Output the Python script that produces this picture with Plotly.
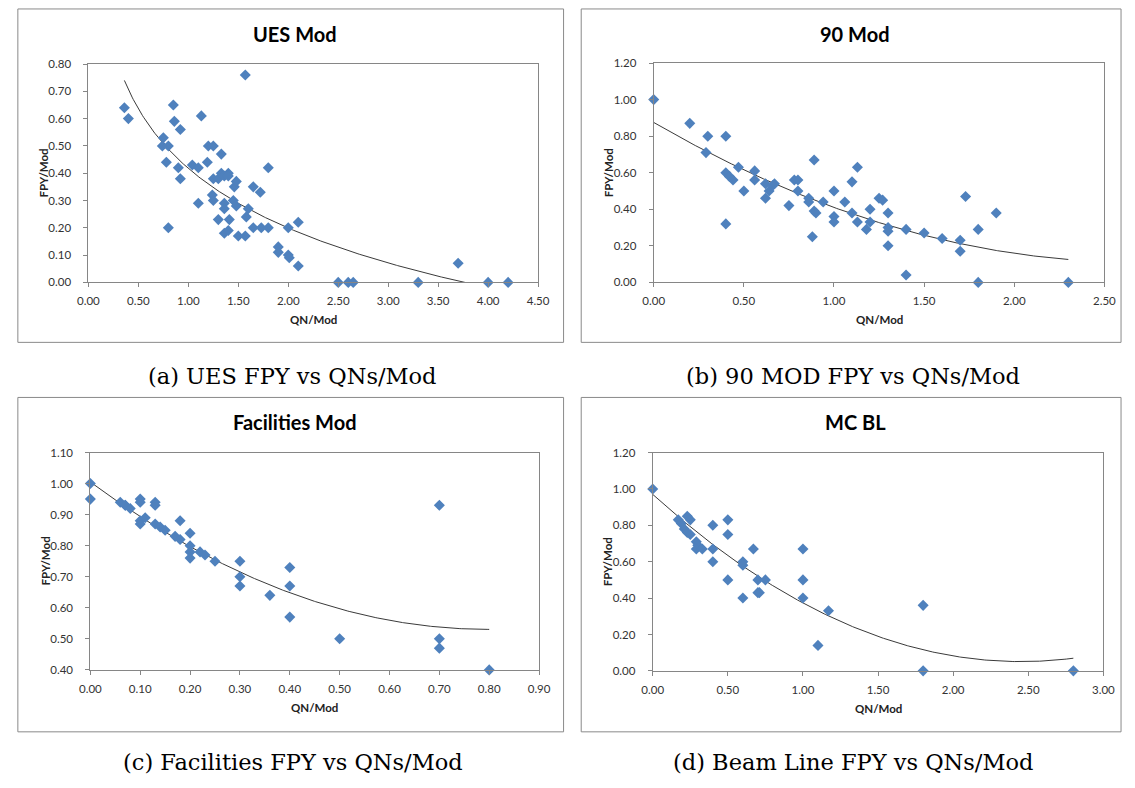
import numpy as np
import plotly.graph_objects as go

W, H = 1135, 788

# ---------------- data ----------------
ues_x = [0.36, 0.40, 0.75, 0.74, 0.80, 0.78, 0.80, 0.85, 0.86, 0.92,
         0.90, 0.92, 1.04, 1.10, 1.10, 1.13, 1.20, 1.25, 1.19, 1.25,
         1.24, 1.25, 1.30, 1.33, 1.33, 1.30, 1.36, 1.40, 1.40, 1.36,
         1.36, 1.36, 1.40, 1.41, 1.46, 1.48, 1.45, 1.48, 1.50, 1.57,
         1.57, 1.58, 1.60, 1.65, 1.72, 1.65, 1.73, 1.80, 1.80, 1.90,
         1.90, 2.00, 2.00, 2.01, 2.10, 2.10, 2.50, 2.60, 2.65, 3.30,
         3.70, 4.00, 4.20]
ues_y = [0.64, 0.60, 0.53, 0.50, 0.50, 0.44, 0.20, 0.65, 0.59, 0.56,
         0.42, 0.38, 0.43, 0.42, 0.29, 0.61, 0.50, 0.50, 0.44, 0.38,
         0.32, 0.30, 0.23, 0.47, 0.40, 0.38, 0.39, 0.40, 0.39, 0.29,
         0.27, 0.18, 0.19, 0.23, 0.35, 0.37, 0.30, 0.28, 0.17, 0.76,
         0.17, 0.24, 0.27, 0.35, 0.33, 0.20, 0.20, 0.42, 0.20, 0.13,
         0.11, 0.20, 0.10, 0.09, 0.22, 0.06, 0.00, 0.00, 0.00, 0.00,
         0.07, 0.00, 0.00]

mod90_x = [0.00, 0.20, 0.30, 0.40, 0.29, 0.40, 0.42, 0.44, 0.40, 0.47,
           0.50, 0.56, 0.56, 0.62, 0.62, 0.64, 0.66, 0.67, 0.75, 0.78,
           0.80, 0.80, 0.89, 0.86, 0.86, 0.88, 0.89, 0.90, 0.94, 1.00,
           1.00, 1.00, 1.06, 1.10, 1.13, 1.10, 1.13, 1.18, 1.20, 1.20,
           1.25, 1.27, 1.30, 1.30, 1.30, 1.30, 1.40, 1.40, 1.50, 1.60,
           1.70, 1.70, 1.73, 1.80, 1.80, 1.90, 2.30]
mod90_y = [1.00, 0.87, 0.80, 0.80, 0.71, 0.60, 0.58, 0.56, 0.32, 0.63,
           0.50, 0.61, 0.56, 0.54, 0.46, 0.50, 0.53, 0.54, 0.42, 0.56,
           0.56, 0.50, 0.67, 0.46, 0.44, 0.25, 0.39, 0.38, 0.44, 0.50,
           0.36, 0.33, 0.44, 0.55, 0.63, 0.38, 0.33, 0.29, 0.40, 0.33,
           0.46, 0.45, 0.38, 0.30, 0.28, 0.20, 0.29, 0.04, 0.27, 0.24,
           0.23, 0.17, 0.47, 0.29, 0.00, 0.38, 0.00]

fac_x = [0.00, 0.00, 0.06, 0.07, 0.07, 0.08, 0.10, 0.10, 0.10, 0.10,
         0.11, 0.13, 0.13, 0.13, 0.14, 0.15, 0.17, 0.18, 0.18, 0.20,
         0.20, 0.20, 0.20, 0.22, 0.23, 0.25, 0.30, 0.30, 0.30, 0.36,
         0.40, 0.40, 0.40, 0.50, 0.70, 0.70, 0.70, 0.80]
fac_y = [1.00, 0.95, 0.94, 0.93, 0.93, 0.92, 0.95, 0.94, 0.88, 0.87,
         0.89, 0.94, 0.93, 0.87, 0.86, 0.85, 0.83, 0.82, 0.88, 0.84,
         0.80, 0.78, 0.76, 0.78, 0.77, 0.75, 0.75, 0.70, 0.67, 0.64,
         0.73, 0.67, 0.57, 0.50, 0.93, 0.50, 0.47, 0.40]

mcbl_x = [0.00, 0.17, 0.23, 0.25, 0.19, 0.21, 0.23, 0.25, 0.29, 0.30,
          0.29, 0.33, 0.40, 0.40, 0.40, 0.50, 0.50, 0.50, 0.67, 0.60,
          0.60, 0.60, 0.70, 0.75, 0.70, 0.71, 1.00, 1.00, 1.00, 1.17,
          1.10, 1.80, 1.80, 2.80]
mcbl_y = [1.00, 0.83, 0.85, 0.83, 0.81, 0.78, 0.76, 0.75, 0.71, 0.69,
          0.67, 0.67, 0.80, 0.67, 0.60, 0.83, 0.75, 0.50, 0.67, 0.60,
          0.58, 0.40, 0.50, 0.50, 0.43, 0.43, 0.67, 0.50, 0.40, 0.33,
          0.14, 0.36, 0.00, 0.00]

# trendline coefficients as displayed in the reference charts
ues_trend_log = [0.4177, -0.3154]            # y = a + b*ln(x)
mod90_trend_poly = [0.875, -0.572, 0.107]    # y = a + b*x + c*x^2
fac_trend_poly = [1.005, -1.190, 0.746]
mcbl_trend_poly = [0.970, -0.750, 0.153]

chart_titles = ["UES Mod", "90 Mod", "Facilities Mod", "MC BL"]
captions = ["(a) UES FPY vs QNs/Mod", "(b) 90 MOD FPY vs QNs/Mod",
            "(c) Facilities FPY vs QNs/Mod", "(d) Beam Line FPY vs QNs/Mod"]
x_title = "QN/Mod"
y_title = "FPY/Mod"

# ---------------- layout (pixels) ----------------
panels = [
    dict(x=ues_x, y=ues_y, trend=("log", ues_trend_log),
         box=(7, 2, 564, 341), plot=(79, 58, 538, 280),
         xr=[0, 4.5], xd=0.5, yr=[0, 0.8], yd=0.1, cap_y=375),
    dict(x=mod90_x, y=mod90_y, trend=("poly", mod90_trend_poly),
         box=(582, 2, 1133, 341), plot=(656, 57, 1116, 280),
         xr=[0, 2.5], xd=0.5, yr=[0, 1.2], yd=0.2, cap_y=375),
    dict(x=fac_x, y=fac_y, trend=("poly", fac_trend_poly),
         box=(7, 397, 564, 737), plot=(81, 453, 539, 674),
         xr=[0, 0.9], xd=0.1, yr=[0.4, 1.1], yd=0.1, cap_y=768),
    dict(x=mcbl_x, y=mcbl_y, trend=("poly", mcbl_trend_poly),
         box=(582, 397, 1133, 737), plot=(655, 453, 1115, 675),
         xr=[0, 3.0], xd=0.5, yr=[0, 1.2], yd=0.2, cap_y=768),
]

MARKER = "#4F81BD"
AXIS = "#868686"
TICKFONT = dict(family="Lato, Open Sans, sans-serif", size=11.5, color="#333333")

fig = go.Figure()
shapes, annotations = [], []


def fx(px):
    return px / W


def fy(py):
    return 1 - py / H


for i, p in enumerate(panels):
    n = i + 1
    xa = "x" if n == 1 else f"x{n}"
    ya = "y" if n == 1 else f"y{n}"
    xs = np.array(p["x"], dtype=float)
    ys = np.array(p["y"], dtype=float)

    kind, coef = p["trend"]
    tx = np.linspace(xs.min(), xs.max(), 300)
    if kind == "log":
        ty = coef[0] + coef[1] * np.log(tx)
    else:
        ty = coef[0] + coef[1] * tx + coef[2] * tx ** 2
    fig.add_trace(go.Scatter(x=tx, y=ty, mode="lines", xaxis=xa, yaxis=ya,
                             line=dict(color="#3a3a3a", width=1), hoverinfo="skip",
                             showlegend=False))
    fig.add_trace(go.Scatter(x=xs, y=ys, mode="markers", xaxis=xa, yaxis=ya,
                             marker=dict(symbol="diamond", size=8.5, color=MARKER,
                                         line=dict(width=0)),
                             cliponaxis=False, showlegend=False))

    L, T, R, B = p["plot"]
    xkey = "xaxis" if n == 1 else f"xaxis{n}"
    ykey = "yaxis" if n == 1 else f"yaxis{n}"
    fig.update_layout({
        xkey: dict(domain=[fx(L), fx(R)], anchor=ya, range=p["xr"], dtick=p["xd"],
                   tick0=0, tickformat=".2f", showgrid=False, zeroline=False,
                   showline=True, linecolor=AXIS, linewidth=1, mirror=True,
                   ticks="outside", ticklen=4, tickcolor=AXIS, tickfont=TICKFONT,
                   ticklabelstandoff=4),
        ykey: dict(domain=[fy(B), fy(T)], anchor=xa, range=p["yr"], dtick=p["yd"],
                   tick0=0, tickformat=".2f", showgrid=False, zeroline=False,
                   showline=True, linecolor=AXIS, linewidth=1, mirror=True,
                   ticks="outside", ticklen=4, tickcolor=AXIS, tickfont=TICKFONT,
                   ticklabelstandoff=10),
    })

    bx0, by0, bx1, by1 = p["box"]
    shapes.append(dict(type="rect", xref="paper", yref="paper",
                       x0=fx(bx0), x1=fx(bx1), y0=fy(by1), y1=fy(by0),
                       line=dict(color="#8a8a8a", width=1), layer="below"))
    cx = (bx0 + bx1) / 2 + 4
    annotations.append(dict(text=f"<b>{chart_titles[i]}</b>", xref="paper", yref="paper",
                            x=fx(cx), y=fy(by0 + 25), xanchor="center", yanchor="middle",
                            showarrow=False,
                            font=dict(family="Lato, Open Sans, sans-serif", size=20, color="#000000")))
    annotations.append(dict(text=f"<b>{x_title}</b>", xref="paper", yref="paper",
                            x=fx((L + R) / 2), y=fy(B + 38), xanchor="center", yanchor="middle",
                            showarrow=False,
                            font=dict(family="Lato, Open Sans, sans-serif", size=11.5, color="#222222")))
    annotations.append(dict(text=f"<b>{y_title}</b>", xref="paper", yref="paper",
                            x=fx(L - 46), y=fy((T + B) / 2), xanchor="center", yanchor="middle",
                            textangle=-90, showarrow=False,
                            font=dict(family="Lato, Open Sans, sans-serif", size=11.5, color="#222222")))
    annotations.append(dict(text=captions[i], xref="paper", yref="paper",
                            x=fx((bx0 + bx1) / 2 + 2), y=fy(p["cap_y"]), xanchor="center",
                            yanchor="middle", showarrow=False,
                            font=dict(family="DejaVu Serif, serif", size=22.5, color="#000000")))

fig.update_layout(width=W, height=H, margin=dict(l=0, r=0, t=0, b=0),
                  paper_bgcolor="white", plot_bgcolor="white",
                  shapes=shapes, annotations=annotations, showlegend=False)

fig.write_html("out.html")
